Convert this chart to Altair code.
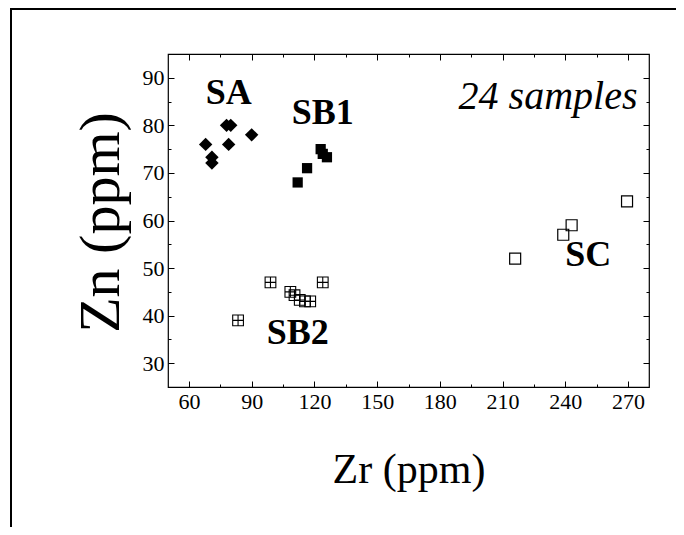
import altair as alt
import pandas as pd

# ---- data ----
SA_ZR = [78, 80, 90, 68, 79, 71, 71]
SA_ZN = [80, 80, 78, 76, 76, 73.3, 72.1]
SB1_ZR = [112, 116.5, 123, 124, 126]
SB1_ZN = [68, 71, 75, 74, 73.3]
SB2_ZR = [99, 124, 108.5, 110.5, 113, 115.5, 118, 83.5]
SB2_ZN = [47, 47, 45, 44.3, 43.3, 43, 43, 39]
SC_ZR = [216, 239, 243, 269.5]
SC_ZN = [52, 57, 59, 64]

GROUP_LABELS = ["SA", "SB1", "SB2", "SC"]
LABEL_ZR = [79, 124, 112, 251]
LABEL_ZN = [86.8, 82.6, 36.3, 52.7]
NOTE = "24 samples"

X_MAJOR = [60, 90, 120, 150, 180, 210, 240, 270]
X_MINOR = [75, 105, 135, 165, 195, 225, 255]
Y_MAJOR = [30, 40, 50, 60, 70, 80, 90]
Y_MINOR = [35, 45, 55, 65, 75, 85]
X_DOMAIN = [50, 280]
Y_DOMAIN = [25, 95]

W, H = 481, 333
FONT = "Liberation Serif"

xs = alt.Scale(domain=X_DOMAIN, nice=False, zero=False)
ys = alt.Scale(domain=Y_DOMAIN, nice=False, zero=False)


def df(xv, yv):
    return pd.DataFrame({"zr": xv, "zn": yv})


all_df = df(SA_ZR + SB1_ZR + SB2_ZR + SC_ZR, SA_ZN + SB1_ZN + SB2_ZN + SC_ZN)

# axis layers
def axis_layer(xaxis, yaxis):
    return alt.Chart(all_df).mark_point(opacity=0).encode(
        x=alt.X("zr:Q", scale=xs, axis=xaxis),
        y=alt.Y("zn:Q", scale=ys, axis=yaxis),
    )

tick_common = dict(labels=False, domain=False, grid=False, title=None,
                   tickColor="black", tickWidth=1)

label_axes = axis_layer(
    alt.Axis(values=X_MAJOR, ticks=False, domain=False, grid=False,
             labelFont=FONT, labelFontSize=22, labelColor="black", labelPadding=4,
             title="Zr (ppm)", titleFont=FONT, titleFontSize=42, titleFontWeight="normal",
             titleColor="black", titleY=95, titleBaseline="alphabetic"),
    alt.Axis(values=Y_MAJOR, ticks=False, domain=False, grid=False,
             labelFont=FONT, labelFontSize=22, labelColor="black", labelPadding=4,
             title="Zn (ppm)", titleFont=FONT, titleFontSize=58, titleFontWeight="normal",
             titleColor="black", titleX=-67, titleY=168, titleAngle=270,
             titleBaseline="middle", titleAlign="center"),
)
# inward ticks at bottom/left edges
ticks_bl_major = axis_layer(
    alt.Axis(orient="top", offset=-H, values=X_MAJOR, tickSize=6, **tick_common),
    alt.Axis(orient="right", offset=-W, values=Y_MAJOR, tickSize=6, **tick_common),
)
ticks_bl_minor = axis_layer(
    alt.Axis(orient="top", offset=-H, values=X_MINOR, tickSize=3, **tick_common),
    alt.Axis(orient="right", offset=-W, values=Y_MINOR, tickSize=3, **tick_common),
)
# inward ticks at top/right edges
ticks_tr_major = axis_layer(
    alt.Axis(orient="bottom", offset=-H, values=X_MAJOR, tickSize=6, **tick_common),
    alt.Axis(orient="left", offset=-W, values=Y_MAJOR, tickSize=6, **tick_common),
)
ticks_tr_minor = axis_layer(
    alt.Axis(orient="bottom", offset=-H, values=X_MINOR, tickSize=3, **tick_common),
    alt.Axis(orient="left", offset=-W, values=Y_MINOR, tickSize=3, **tick_common),
)


def enc(ch):
    return ch.encode(
        x=alt.X("zr:Q", scale=xs, axis=None),
        y=alt.Y("zn:Q", scale=ys, axis=None),
    )

sa = enc(alt.Chart(df(SA_ZR, SA_ZN)).mark_point(
    shape="diamond", filled=True, color="black", size=180, opacity=1))
sb1 = enc(alt.Chart(df(SB1_ZR, SB1_ZN)).mark_point(
    shape="square", filled=True, color="black", size=105, opacity=1))
sb2 = enc(alt.Chart(df(SB2_ZR, SB2_ZN)).mark_point(
    shape="M-1,-1L1,-1L1,1L-1,1Z M0,-1L0,1 M-1,0L1,0",
    filled=False, color="black", size=115, strokeWidth=1.1, opacity=1))
sc = enc(alt.Chart(df(SC_ZR, SC_ZN)).mark_point(
    shape="square", filled=False, color="black", size=121, strokeWidth=1.2, opacity=1))

labels_df = pd.DataFrame({"zr": LABEL_ZR, "zn": LABEL_ZN, "t": GROUP_LABELS})
labels = alt.Chart(labels_df).mark_text(
    font=FONT, fontSize=36, fontWeight="bold", color="black",
    align="center", baseline="middle").encode(
    x=alt.X("zr:Q", scale=xs, axis=None),
    y=alt.Y("zn:Q", scale=ys, axis=None),
    text="t:N",
)

note = alt.Chart(pd.DataFrame({"zr": [274.5], "zn": [86.0], "t": [NOTE]})).mark_text(
    font=FONT, fontSize=40, fontStyle="italic", color="black",
    align="right", baseline="middle").encode(
    x=alt.X("zr:Q", scale=xs, axis=None),
    y=alt.Y("zn:Q", scale=ys, axis=None),
    text="t:N",
)

border = alt.Chart(pd.DataFrame({"a": [0]})).mark_rect(
    fill="transparent", stroke="black", strokeWidth=2).encode(
    x=alt.value(-157), x2=alt.value(700), y=alt.value(-45), y2=alt.value(600))

chart = alt.layer(
    border, label_axes, ticks_bl_major, ticks_bl_minor, ticks_tr_major, ticks_tr_minor,
    sa, sb1, sb2, sc, labels, note,
).resolve_axis(x="independent", y="independent").properties(
    width=W, height=H,
    autosize=alt.AutoSizeParams(type="none"),
    padding={"left": 160, "top": 46, "right": 27, "bottom": 140},
    background="white",
).configure_view(stroke="black", strokeWidth=1.2)

chart.save("out.html", embed_options={"renderer": "svg", "actions": False})
